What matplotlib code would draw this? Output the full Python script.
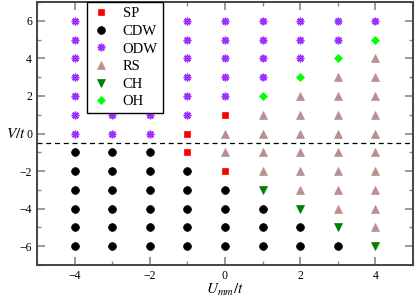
import matplotlib
matplotlib.use("Agg")
import matplotlib.pyplot as plt
from matplotlib.ticker import MultipleLocator

plt.rcParams['font.family'] = ['Liberation Serif', 'DejaVu Serif']
plt.rcParams['mathtext.fontset'] = 'stix'

# phase diagram data: columns of U_mm/t, rows of V/t (top to bottom)
U_vals = [-4, -3, -2, -1, 0, 1, 2, 3, 4]
V_vals = [6, 5, 4, 3, 2, 1, 0, -1, -2, -3, -4, -5, -6]
# S=SP, C=CDW, O=ODW, R=RS, D=CH, H=OH
phase_cols = [
    "OOOOOOOCCCCCC",
    "OOOOOOOCCCCCC",
    "OOOOOOOCCCCCC",
    "OOOOOOSSCCCCC",
    "OOOOOSRRSCCCC",
    "OOOOHRRRRDCCC",
    "OOOHRRRRRRDCC",
    "OOHRRRRRRRRDC",
    "OHRRRRRRRRRRD",
]
phase_codes = ["S", "C", "O", "R", "D", "H"]
phase_names = ["SP", "CDW", "ODW", "RS", "CH", "OH"]
boundary_V = -0.5

styles = {
    "S": dict(marker='s', color='#ff0000', ms=4.8),
    "C": dict(marker='o', color='black', ms=5.6),
    "O": dict(marker=(8, 2, 0), color='#9b30ff', ms=5.5, mew=1.1),
    "R": dict(marker='^', color='#bc8f8f', ms=5.6),
    "D": dict(marker='v', color='#007f00', ms=5.6),
    "H": dict(marker='D', color='#00ff00', ms=4.0),
}

fig = plt.figure(figsize=(4.15, 2.99), dpi=100)
ax = fig.add_axes([0.089, 0.114, 0.906, 0.879])

for code, name in zip(phase_codes, phase_names):
    xs, ys = [], []
    for u, col in zip(U_vals, phase_cols):
        for v, p in zip(V_vals, col):
            if p == code:
                xs.append(u)
                ys.append(v)
    st = styles[code]
    ax.plot(xs, ys, linestyle='none', marker=st['marker'], color=st['color'],
            markersize=st['ms'], markeredgewidth=st.get('mew', 0.5), label=name)

ax.axhline(boundary_V, color='black', linestyle=(0, (4, 3)), linewidth=0.9)

ax.set_xlim(-5, 5)
ax.set_ylim(-7, 7)
ax.xaxis.set_major_locator(MultipleLocator(2))
ax.xaxis.set_minor_locator(MultipleLocator(1))
ax.yaxis.set_major_locator(MultipleLocator(2))
ax.yaxis.set_minor_locator(MultipleLocator(1))
ax.tick_params(which='both', direction='in', top=True, right=True,
               color='#888888', labelsize=8.5)
ax.tick_params(which='major', length=6, width=1.2)
ax.tick_params(which='minor', length=3, width=1.0)
for s in ax.spines.values():
    s.set_linewidth(1.4)
    s.set_color('#444444')

ax.set_xlabel('$U_{mm}/t$', fontsize=11, labelpad=0)
ax.set_ylabel('$V/t$', fontsize=11, rotation=0)
ax.yaxis.set_label_coords(-0.055, 0.47)

ax.legend(loc='upper left', bbox_to_anchor=(0.133, 1.0), borderaxespad=0,
          fontsize=10.5, frameon=True, fancybox=False, edgecolor='black',
          framealpha=1, handletextpad=0.9, labelspacing=0.3, borderpad=0.35,
          handlelength=1.2)

plt.savefig('out.png', dpi=100)
